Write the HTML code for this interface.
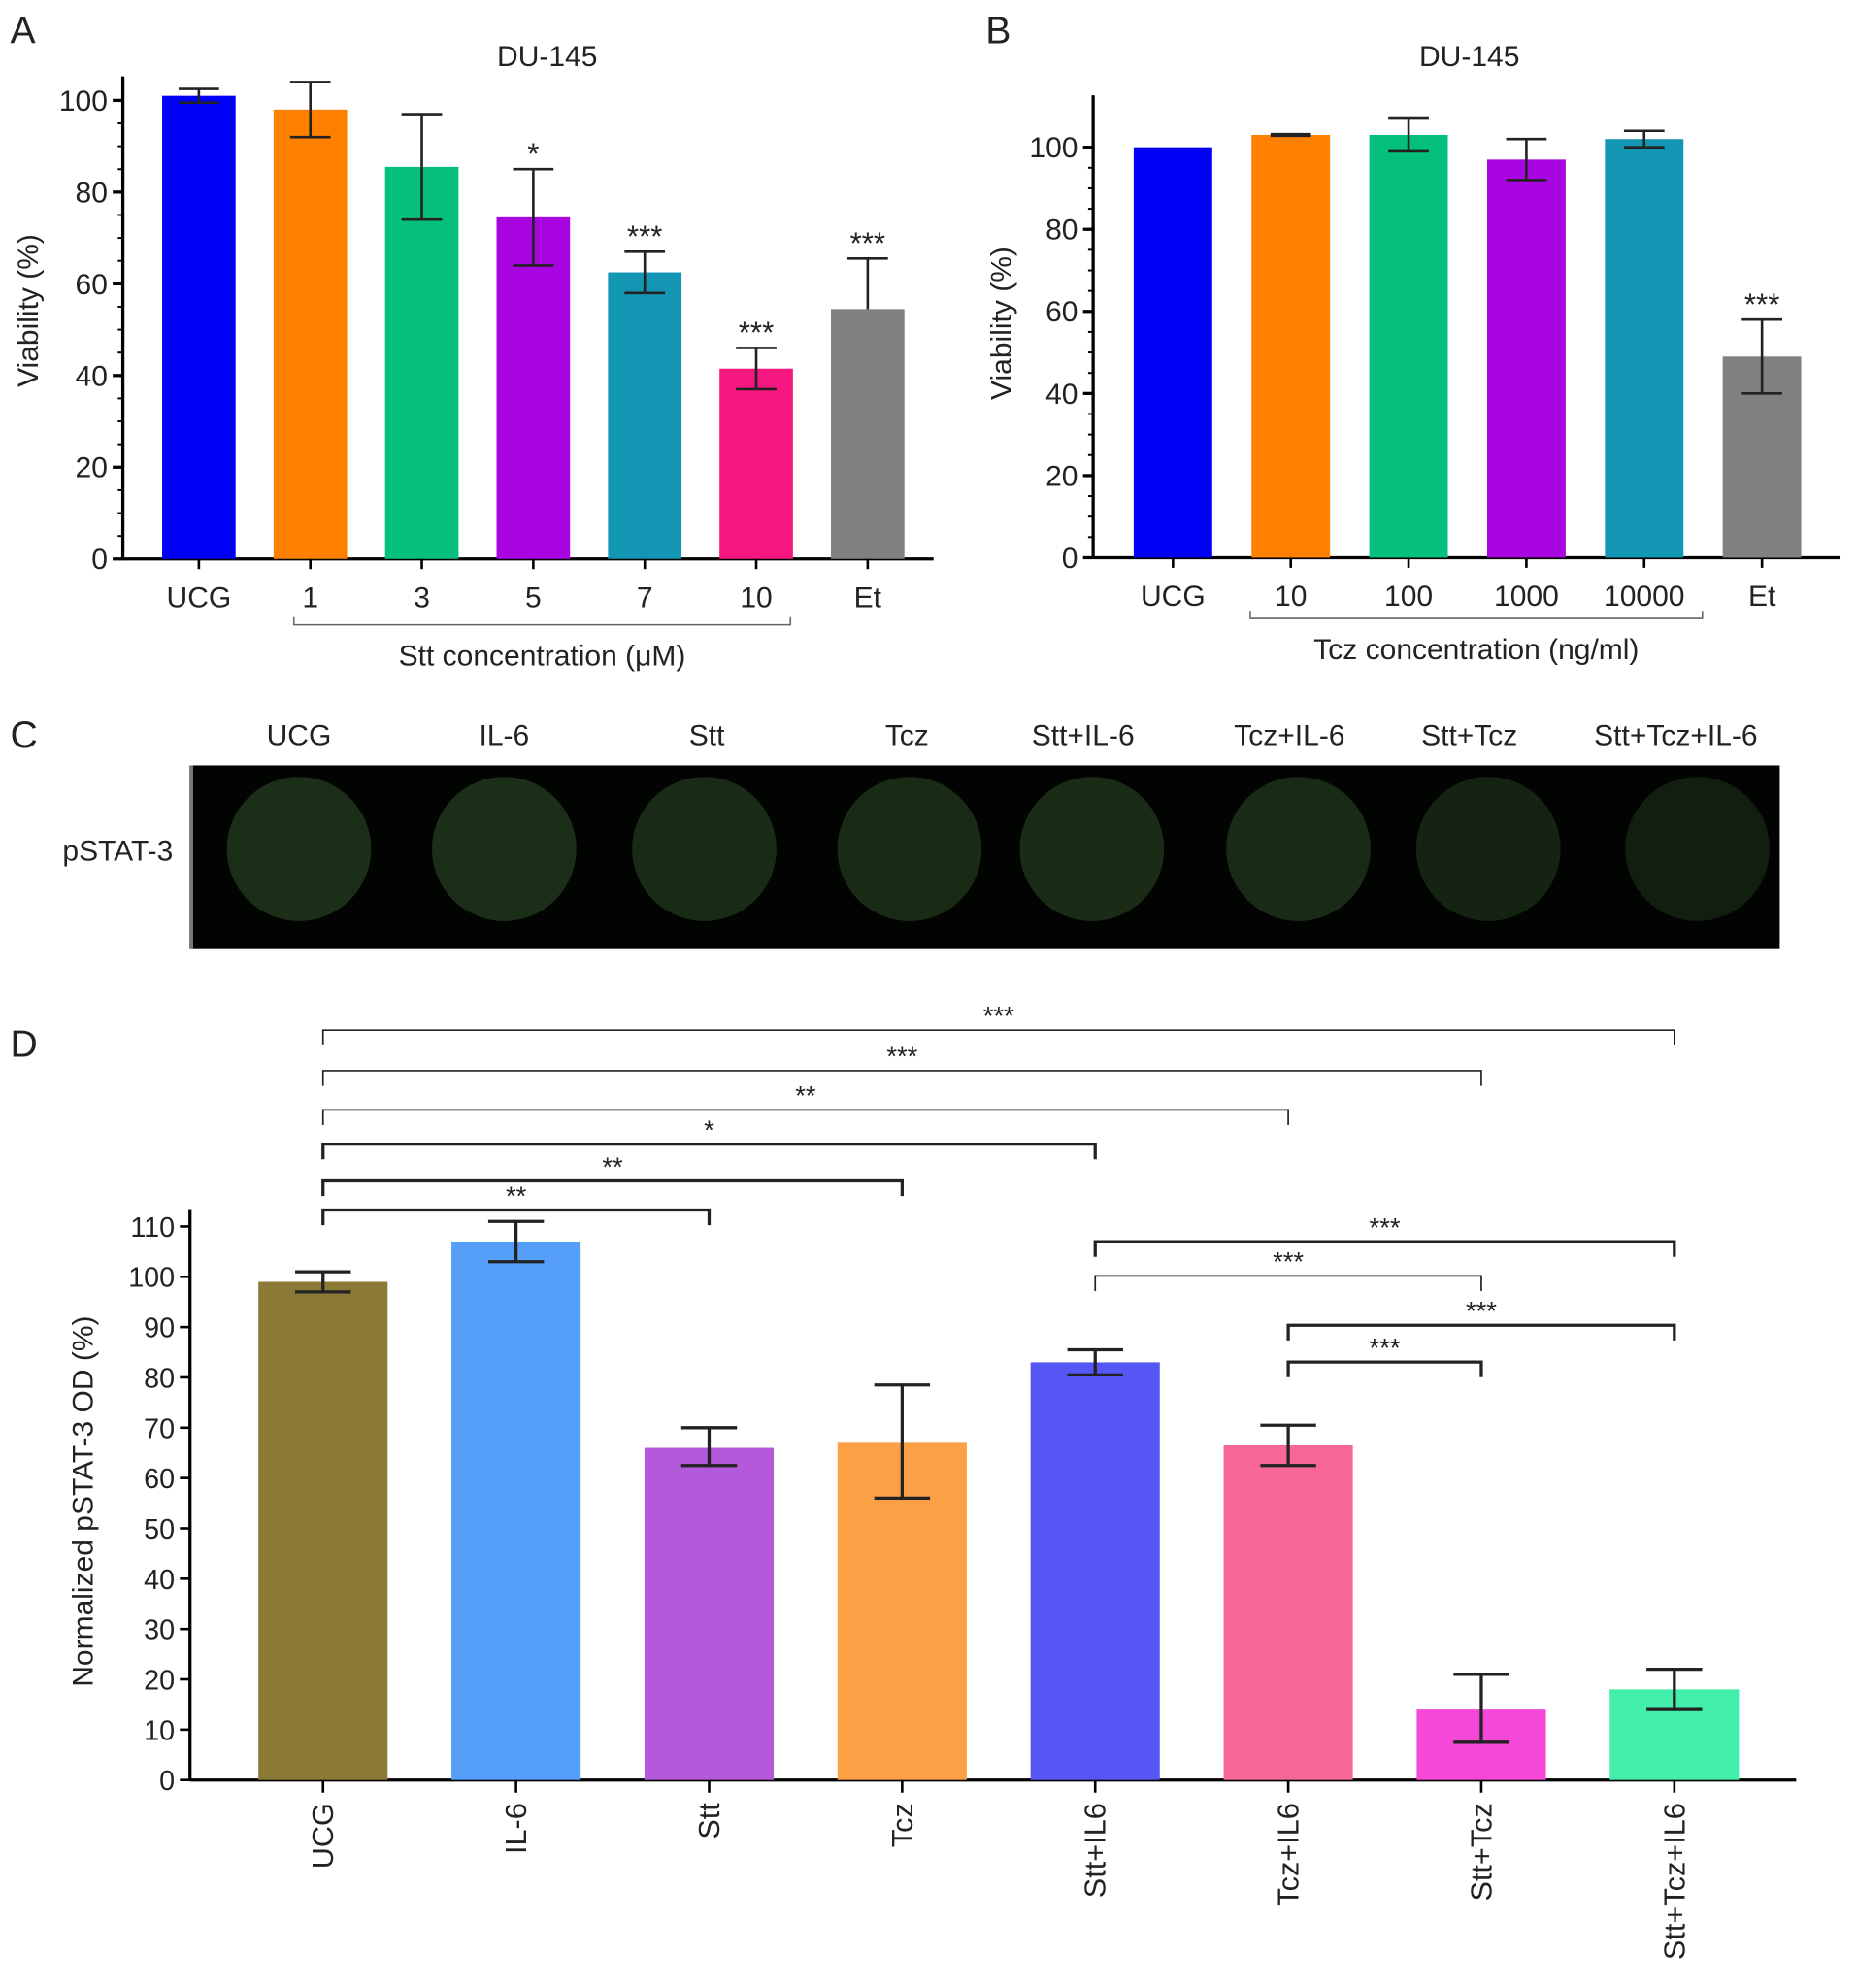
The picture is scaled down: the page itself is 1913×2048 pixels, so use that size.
<!DOCTYPE html>
<html><head><meta charset="utf-8"><style>
html,body{margin:0;padding:0;background:#fff}
svg{display:block}
text{font-family:"Liberation Sans",Arial,sans-serif;fill:#222}
</style></head><body>
<svg id="fig" width="1913" height="2048" viewBox="0 0 1466 1569" xmlns="http://www.w3.org/2000/svg">
<g id="gA"></g>
<g id="gB"></g>
<g id="gC"></g>
<g id="gD"></g>
</svg>
<script>
// Panel A data
const aCats = ["UCG","1","3","5","7","10","Et"];
const aVals = [101,98,85.5,74.5,62.5,41.5,54.5];
const aLo = [99.5,92,74,64,58,37,54.5];
const aHi = [102.5,104,97,85,67,46,65.5];
const aStars = ["","","","*","***","***","***"];
const aColors = ["#0000f5","#ff7f00","#05c07c","#a905e0","#1396b4","#f5177f","#808080"];
const aTicks = [0,20,40,60,80,100];
// Panel B data
const bCats = ["UCG","10","100","1000","10000","Et"];
const bVals = [100,103,103,97,102,49];
const bLo = [100,102.8,99,92,100,40];
const bHi = [100,103.2,107,102,104,58];
const bStars = ["","","","","","***"];
const bColors = ["#0000f5","#ff7f00","#05c07c","#a905e0","#1396b4","#808080"];
const bTicks = [0,20,40,60,80,100];
// Panel C
const cCats = ["UCG","IL-6","Stt","Tcz","Stt+IL-6","Tcz+IL-6","Stt+Tcz","Stt+Tcz+IL-6"];
const cIntensity = [0.95,0.95,0.9,0.88,0.92,0.9,0.75,0.65];
// Panel D data
const dCats = ["UCG","IL-6","Stt","Tcz","Stt+IL6","Tcz+IL6","Stt+Tcz","Stt+Tcz+IL6"];
const dVals = [99,107,66,67,83,66.5,14,18];
const dLo = [97,103,62.5,56,80.5,62.5,7.5,14];
const dHi = [101,111,70,78.5,85.5,70.5,21,22];
const dColors = ["#8a7a35","#559ff8","#b459da","#fba044","#5656f5","#f76896","#f548d8","#42eeaa"];
const dTicks = [0,10,20,30,40,50,60,70,80,90,100,110];
const dCompA = [0,0,0,0,0,0,4,4,5,5];
const dCompB = [2,3,4,5,6,7,7,6,7,6];
const dCompLabel = ["**","**","*","**","***","***","***","***","***","***"];

const NS="http://www.w3.org/2000/svg";
function mk(parent,tag,attrs,txt){const e=document.createElementNS(NS,tag);for(const k in attrs)e.setAttribute(k,attrs[k]);if(txt!==undefined)e.textContent=txt;parent.appendChild(e);return e;}

function barPanel(g,o){
  const y=v=>o.y0-(v-0)/(o.vmax)*(o.y0-o.yTop);
  const x=i=>o.x0c+i*o.step;
  mk(g,"text",{x:o.letterX,y:o.letterY,"font-size":30},o.letter);
  mk(g,"text",{x:o.titleX,y:52,"font-size":23,"text-anchor":"middle"},"DU-145");
  const ya=mk(g,"line",{x1:o.ax,y1:o.axTop,x2:o.ax,y2:o.y0+1,stroke:"#000","stroke-width":2.5});
  
  
  const xa=mk(g,"line",{x1:o.ax,y1:o.y0,x2:o.axRight,y2:o.y0,stroke:"#000","stroke-width":2.5});
  
  
  for(let v=0;v<=o.vmax+0.01;v+=o.minor){const yy=y(v);if(yy<o.axTop)break;mk(g,"line",{x1:o.ax-4,y1:yy,x2:o.ax,y2:yy,stroke:"#000","stroke-width":1.5});}
  o.ticks.forEach(t=>{
    mk(g,"line",{x1:o.ax-8,y1:y(t),x2:o.ax,y2:y(t),stroke:"#000","stroke-width":2.5});
    const tl=mk(g,"text",{x:o.ax-12,y:y(t)+8,"font-size":23,"text-anchor":"end"},String(t));
    
    
  });
  const yl=mk(g,"text",{x:0,y:0,"font-size":23,"text-anchor":"middle",transform:`translate(${o.ylx},${o.yly}) rotate(-90)`},"Viability (%)");
  
  
  o.cats.forEach((c,i)=>{
    const cx=x(i);
    const b=mk(g,"rect",{x:cx-o.bw/2,y:y(o.vals[i]),width:o.bw,height:o.y0-y(o.vals[i]),fill:o.colors[i]});
    
    
    if(o.hi[i]!==o.lo[i]){
      mk(g,"line",{x1:cx,y1:y(o.hi[i]),x2:cx,y2:y(o.lo[i]),stroke:"#222","stroke-width":2});
      mk(g,"line",{x1:cx-16,y1:y(o.hi[i]),x2:cx+16,y2:y(o.hi[i]),stroke:"#222","stroke-width":2});
      if(o.lo[i]<o.vals[i]) mk(g,"line",{x1:cx-16,y1:y(o.lo[i]),x2:cx+16,y2:y(o.lo[i]),stroke:"#222","stroke-width":2});
    }
    if(o.stars[i]){const s=mk(g,"text",{x:cx,y:y(o.hi[i])-4,"font-size":24,"text-anchor":"middle"},o.stars[i]);}
    mk(g,"line",{x1:cx,y1:o.y0,x2:cx,y2:o.y0+8,stroke:"#000","stroke-width":2});
    const xl=mk(g,"text",{x:cx,y:o.y0+38,"font-size":23,"text-anchor":"middle"},c);
    
    
  });
  mk(g,"path",{d:`M${o.brL},${o.brY-6}V${o.brY}H${o.brR}V${o.brY-6}`,fill:"none",stroke:"#666","stroke-width":1.2});
  const xt=mk(g,"text",{x:(o.brL+o.brR)/2,y:o.brY+32,"font-size":23,"text-anchor":"middle"},o.xTitle);
  
  
}
barPanel(document.getElementById("gA"),{letter:"A",letterX:8,letterY:34,titleX:432,ax:97,axTop:60,axRight:737,y0:441,yTop:79,vmax:100,minor:5,ticks:aTicks,x0c:157,step:88,bw:58,cats:aCats,vals:aVals,lo:aLo,hi:aHi,stars:aStars,colors:aColors,ylx:30,yly:245,brL:232,brR:624,brY:493,xTitle:"Stt concentration (\u03bcM)"});
barPanel(document.getElementById("gB"),{letter:"B",letterX:778,letterY:34,titleX:1160,ax:863,axTop:75,axRight:1453,y0:440,yTop:116,vmax:100,minor:5,ticks:bTicks,x0c:926,step:93,bw:62,cats:bCats,vals:bVals,lo:bLo,hi:bHi,stars:bStars,colors:bColors,ylx:798,yly:255,brL:987,brR:1344,brY:488,xTitle:"Tcz concentration (ng/ml)"});

// Panel C
(function(){
  const g=document.getElementById("gC");
  mk(g,"text",{x:8,y:590,"font-size":30},"C");
  const r=mk(g,"rect",{x:150,y:604,width:1255,height:145,fill:"#020402"});
  
  
  mk(g,"line",{x1:151,y1:604,x2:151,y2:749,stroke:"#777","stroke-width":3});
  const cxs=[236,398,556,718,862,1025,1175,1340];
  const pl=mk(g,"text",{x:93,y:679,"font-size":23,"text-anchor":"middle"},"pSTAT-3");
  
  
  cCats.forEach((c,i)=>{
    const lx=[236,398,558,716,855,1018,1160,1323][i];
    const t=mk(g,"text",{x:lx,y:588,"font-size":23,"text-anchor":"middle"},c);
    
    
    const k=cIntensity[i];
    const d=mk(g,"ellipse",{cx:cxs[i],cy:670,rx:57,ry:57,fill:`rgb(${Math.round(28*k)},${Math.round(48*k)},${Math.round(24*k)})`});
    
    
  });
})();

// Panel D
(function(){
  const g=document.getElementById("gD");
  const y0=1405,yTop=968,vmax=110,ax=150;
  const y=v=>y0-v/vmax*(y0-yTop);
  const x=i=>255+i*152.4;
  mk(g,"text",{x:8,y:834,"font-size":30},"D");
  const ya=mk(g,"line",{x1:ax,y1:955,x2:ax,y2:y0+1,stroke:"#000","stroke-width":2.5});
  
  
  const xa=mk(g,"line",{x1:ax,y1:y0,x2:1418,y2:y0,stroke:"#000","stroke-width":2.5});
  
  
  dTicks.forEach(t=>{
    mk(g,"line",{x1:ax-8,y1:y(t),x2:ax,y2:y(t),stroke:"#000","stroke-width":2});
    const tl=mk(g,"text",{x:ax-12,y:y(t)+8,"font-size":22,"text-anchor":"end"},String(t));
    
    
  });
  const yl=mk(g,"text",{x:0,y:0,"font-size":23,"text-anchor":"middle",transform:"translate(73,1185) rotate(-90)"},"Normalized pSTAT-3 OD (%)");
  
  
  dCats.forEach((c,i)=>{
    const cx=x(i);
    const b=mk(g,"rect",{x:cx-51,y:y(dVals[i]),width:102,height:y0-y(dVals[i]),fill:dColors[i]});
    
    
    mk(g,"line",{x1:cx,y1:y(dHi[i]),x2:cx,y2:y(dLo[i]),stroke:"#222","stroke-width":2.5});
    mk(g,"line",{x1:cx-22,y1:y(dHi[i]),x2:cx+22,y2:y(dHi[i]),stroke:"#222","stroke-width":2.5});
    mk(g,"line",{x1:cx-22,y1:y(dLo[i]),x2:cx+22,y2:y(dLo[i]),stroke:"#222","stroke-width":2.5});
    mk(g,"line",{x1:cx,y1:y0,x2:cx,y2:y0+10,stroke:"#000","stroke-width":2});
    const xl=mk(g,"text",{x:0,y:0,"font-size":23.5,"text-anchor":"end",transform:`translate(${cx+8},${y0+18}) rotate(-90)`},c);
    
    
  });
  const bys=[955,932,903,876,845,813,980,1007,1046,1075];
  const widths=[2.5,2.5,2.5,1.3,1.3,1.3,2.5,1.3,2.5,2.5];
  dCompA.forEach((a,k)=>{
    const xa_=x(a),xb=x(dCompB[k]),yy=bys[k];
    const p=mk(g,"path",{d:`M${xa_},${yy+12}V${yy}H${xb}V${yy+12}`,fill:"none",stroke:"#222","stroke-width":widths[k]});
    
    
    const t=mk(g,"text",{x:(xa_+xb)/2,y:yy-4,"font-size":21,"text-anchor":"middle"},dCompLabel[k]);
    
    
  });
})();
</script>
</body></html>
